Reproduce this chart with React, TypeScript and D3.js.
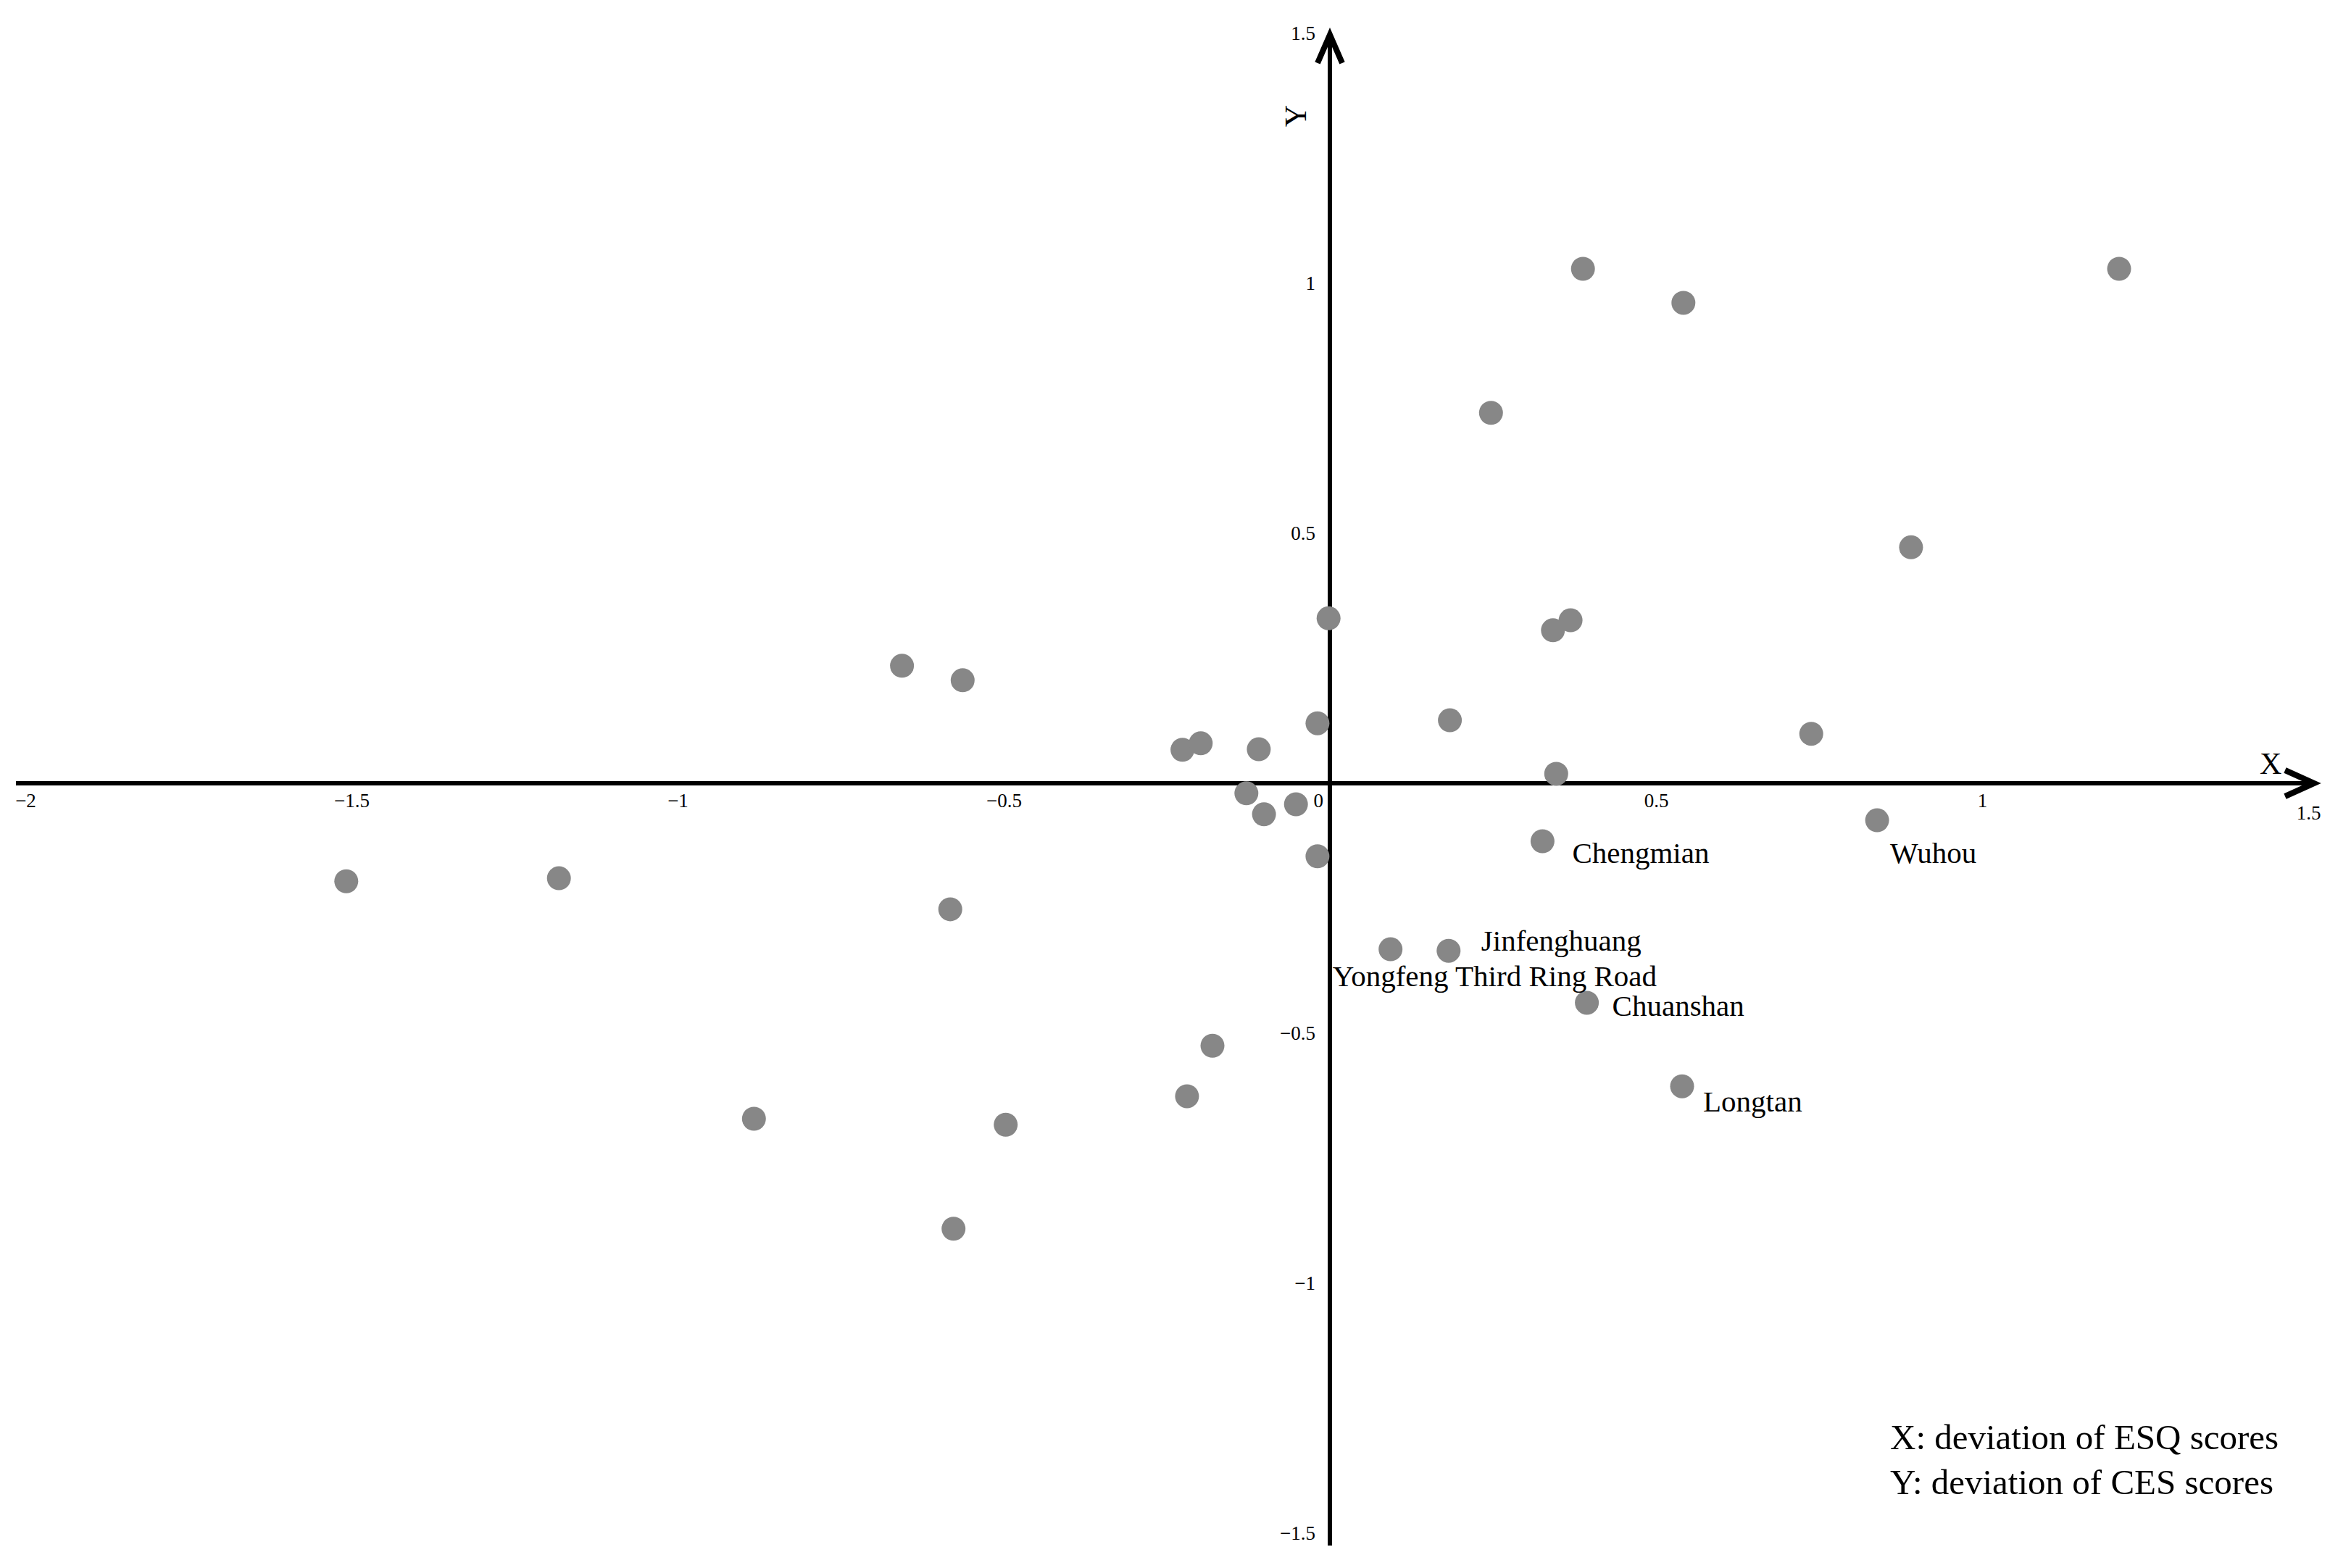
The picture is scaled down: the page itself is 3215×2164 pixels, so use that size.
import React, { useEffect, useRef } from 'react';
import * as d3 from 'd3';

// deviation of ESQ scores (x) and CES scores (y) per site
const esqDeviation = [
  0.388, 0.542, 1.21, 0.247, 0.891, -0.002, 0.342, 0.369, -0.656, -0.563,
  -0.019, 0.184, 0.738, -0.226, -0.198, -0.109, 0.347, -0.128, -0.101, -0.052,
  -0.019, 0.326, 0.839, -1.508, -1.182, -0.582, 0.093, 0.182, 0.394, 0.54,
  -0.18, -0.219, -0.883, -0.497, -0.577,
];
const cesDeviation = [
  1.029, 0.961, 1.029, 0.741, 0.472, 0.33, 0.306, 0.326, 0.235, 0.206,
  0.12, 0.126, 0.099, 0.067, 0.08, 0.068, 0.019, -0.02, -0.062, -0.042,
  -0.146, -0.116, -0.074, -0.196, -0.19, -0.252, -0.332, -0.335, -0.439, -0.606,
  -0.525, -0.626, -0.671, -0.683, -0.891,
];
const siteNames = [
  '', '', '', '', '', '', '', '', '', '',
  '', '', '', '', '', '', '', '', '', '',
  '', 'Chengmian', 'Wuhou', '', '', '', 'Yongfeng Third Ring Road', 'Jinfenghuang', 'Chuanshan', 'Longtan',
  '', '', '', '', '',
];

const xTicks = [-2, -1.5, -1, -0.5, 0.5, 1, 1.5];
const yTicks = [-1.5, -1, -0.5, 0.5, 1, 1.5];
const legendLines = ['X: deviation of ESQ scores', 'Y: deviation of CES scores'];

// where each name sits relative to its dot (px)
const labelOffset = {
  Chengmian: [41, 30],
  Wuhou: [18, 59],
  Jinfenghuang: [45, 0],
  'Yongfeng Third Ring Road': [-80, 51],
  Chuanshan: [35, 18],
  Longtan: [29, 35],
};

const W = 3215;
const H = 2164;
const FONT = '"Liberation Serif", "Times New Roman", serif';

const App = () => {
  const svgRef = useRef(null);

  useEffect(() => {
    document.body.style.margin = '0';
    document.body.style.overflow = 'hidden';

    const svg = d3.select(svgRef.current);
    svg.selectAll('*').remove();

    const xScale = d3.scaleLinear().domain([-2, 1.5]).range([35, 3185]);
    const yScale = d3.scaleLinear().domain([-1.5, 1.5]).range([2116, 46]);
    const x0 = xScale(0);
    const y0 = yScale(0);

    svg.append('rect').attr('width', W).attr('height', H).attr('fill', '#fff');

    // axis lines
    svg.append('line')
      .attr('x1', xScale(-2) - 13).attr('x2', xScale(1.5) + 8)
      .attr('y1', y0).attr('y2', y0)
      .attr('stroke', '#000').attr('stroke-width', 6);
    svg.append('line')
      .attr('x1', x0).attr('x2', x0)
      .attr('y1', yScale(1.5) + 2).attr('y2', yScale(-1.5) + 17)
      .attr('stroke', '#000').attr('stroke-width', 6);

    // arrow heads
    const xTip = xScale(1.5) + 8;
    const yTip = yScale(1.5) + 2;
    svg.append('path')
      .attr('d', `M${xTip - 40},${y0 - 18}L${xTip},${y0}L${xTip - 40},${y0 + 18}`)
      .attr('fill', 'none').attr('stroke', '#000').attr('stroke-width', 8)
      .attr('stroke-linejoin', 'miter');
    svg.append('path')
      .attr('d', `M${x0 - 17},${yTip + 39}L${x0},${yTip}L${x0 + 17},${yTip + 39}`)
      .attr('fill', 'none').attr('stroke', '#000').attr('stroke-width', 8)
      .attr('stroke-linejoin', 'miter');

    // tick labels
    const fmt = d3.format('');
    const xAxis = svg.append('g')
      .attr('transform', `translate(0,${y0})`)
      .call(d3.axisBottom(xScale).tickValues(xTicks).tickSize(0).tickPadding(14).tickFormat(fmt));
    xAxis.select('.domain').remove();
    xAxis.selectAll('text')
      .attr('font-family', FONT).attr('font-size', 27).attr('fill', '#000')
      .attr('y', d => (d === 1.5 ? 31 : 14));

    const yAxis = svg.append('g')
      .attr('transform', `translate(${x0},0)`)
      .call(d3.axisLeft(yScale).tickValues(yTicks).tickSize(0).tickPadding(20).tickFormat(fmt));
    yAxis.select('.domain').remove();
    yAxis.selectAll('text')
      .attr('font-family', FONT).attr('font-size', 27).attr('fill', '#000');

    svg.append('text')
      .attr('x', x0 - 9).attr('y', y0 + 33)
      .attr('text-anchor', 'end')
      .attr('font-family', FONT).attr('font-size', 27)
      .text('0');

    // axis names
    svg.append('text')
      .attr('x', xTip - 75).attr('y', y0 - 13)
      .attr('font-family', FONT).attr('font-size', 42)
      .text('X');
    svg.append('text')
      .attr('transform', `translate(${x0 - 33},${yScale(1.5) + 114}) rotate(-90)`)
      .attr('text-anchor', 'middle')
      .attr('font-family', FONT).attr('font-size', 42)
      .text('Y');

    // points
    const points = esqDeviation.map((v, i) => ({ x: v, y: cesDeviation[i], name: siteNames[i] }));

    svg.append('g')
      .selectAll('circle')
      .data(points)
      .enter().append('circle')
      .attr('cx', d => xScale(d.x))
      .attr('cy', d => yScale(d.y))
      .attr('r', 16.5)
      .attr('fill', '#878787');

    svg.append('g')
      .selectAll('text')
      .data(points.filter(d => d.name))
      .enter().append('text')
      .attr('x', d => xScale(d.x) + labelOffset[d.name][0])
      .attr('y', d => yScale(d.y) + labelOffset[d.name][1])
      .attr('font-family', FONT).attr('font-size', 41)
      .text(d => d.name);

    // legend note
    svg.append('g')
      .selectAll('text')
      .data(legendLines)
      .enter().append('text')
      .attr('x', 2608)
      .attr('y', (d, i) => 2000 + i * 62)
      .attr('font-family', FONT).attr('font-size', 49)
      .text(d => d);
  }, []);

  return <svg ref={svgRef} width={W} height={H} style={{ display: 'block' }}></svg>;
};

export default App;
